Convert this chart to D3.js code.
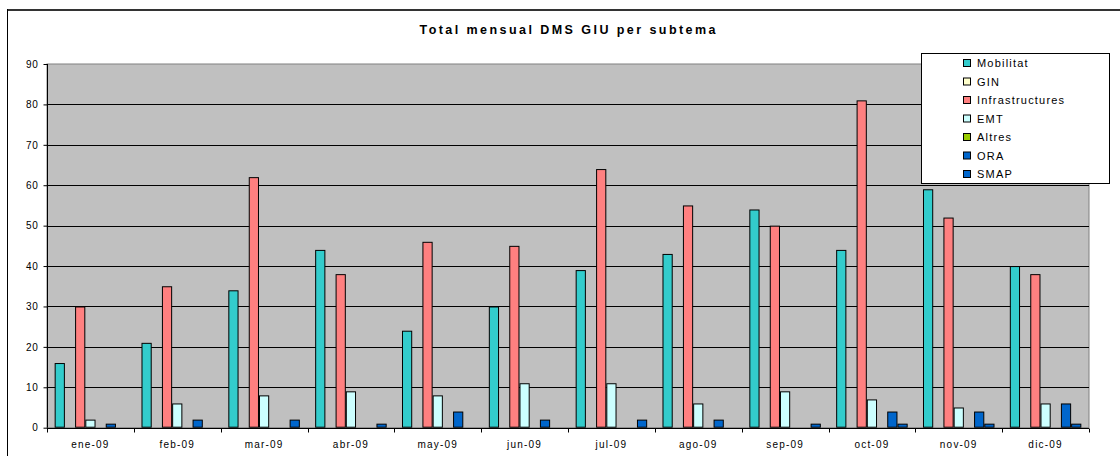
<!DOCTYPE html>
<html><head><meta charset="utf-8">
<script src="https://cdn.jsdelivr.net/npm/d3@7"></script>
<style>
html,body{margin:0;padding:0;background:#fff;}
svg{display:block;font-family:"Liberation Sans",Arial,sans-serif;}
</style></head>
<body>
<svg id="chart" width="1120" height="456"></svg>
<script>
const months = ["ene-09","feb-09","mar-09","abr-09","may-09","jun-09","jul-09","ago-09","sep-09","oct-09","nov-09","dic-09"];
const seriesNames = ["Mobilitat","GIN","Infrastructures","EMT","Altres","ORA","SMAP"];
const seriesColors = ["#33CCCC","#FFFFCC","#FF8080","#CCFFFF","#99CC00","#0066CC","#0066CC"];
const mobilitat = [16,21,34,44,24,30,39,43,54,44,59,40];
const gin = [0,0,0,0,0,0,0,0,0,0,0,0];
const infrastructures = [30,35,62,38,46,45,64,55,50,81,52,38];
const emt = [2,6,8,9,8,11,11,6,9,7,5,6];
const altres = [0,0,0,0,0,0,0,0,0,0,0,0];
const ora = [1,2,0,0,4,2,0,2,0,4,4,6];
const smap = [0,0,2,1,0,0,2,0,1,1,1,1];
const yTicks = [0,10,20,30,40,50,60,70,80,90];
const title = "Total mensual DMS GIU per subtema";

const seriesValues = [mobilitat, gin, infrastructures, emt, altres, ora, smap];

const svg = d3.select("#chart");
const plot = {left:47, right:1089, top:64, bottom:427.7};

// outer frame
svg.append("line").attr("x1",7).attr("x2",1120).attr("y1",10).attr("y2",10).attr("stroke","#333").attr("stroke-width",2);
svg.append("line").attr("x1",7.5).attr("x2",7.5).attr("y1",9).attr("y2",456).attr("stroke","#000").attr("stroke-width",1);

svg.append("text").attr("x",567.5).attr("y",33.5).attr("text-anchor","middle")
  .attr("font-size",12.5).attr("font-weight",700).attr("textLength",296).attr("lengthAdjust","spacing")
  .attr("fill","#000")
  .text(title);

const x = d3.scaleBand().domain(months).range([plot.left, plot.right]).padding(0);
const xs = d3.scaleBand().domain(seriesNames).range([0, x.bandwidth()]).paddingInner(0).paddingOuter(0.75);
const y = d3.scaleLinear().domain([0,90]).range([plot.bottom, plot.top]);

// plot background
svg.append("rect").attr("x",plot.left).attr("y",plot.top).attr("width",plot.right-plot.left).attr("height",plot.bottom-plot.top)
  .attr("fill","#C0C0C0").attr("stroke","#808080").attr("stroke-width",1);

// gridlines
svg.append("g").selectAll("line").data(yTicks.filter(t=>t>0&&t<90)).join("line")
  .attr("x1",plot.left).attr("x2",plot.right)
  .attr("y1",d=>Math.round(y(d))+0.5).attr("y2",d=>Math.round(y(d))+0.5)
  .attr("stroke","#000").attr("stroke-width",1);

// bars
const barData = [];
months.forEach((m,i)=>{
  seriesNames.forEach((s,j)=>{
    const v = seriesValues[j][i];
    if (v>0) barData.push({m, s, v, c: seriesColors[j]});
  });
});
svg.append("g").selectAll("rect").data(barData).join("rect")
  .attr("x",d=>x(d.m)+xs(d.s)+0.5)
  .attr("y",d=>y(d.v)+0.5)
  .attr("width",xs.bandwidth()-1)
  .attr("height",d=>y(0)-y(d.v)-1)
  .attr("fill",d=>d.c).attr("stroke","#000").attr("stroke-width",1);

// y axis
const yAxis = d3.axisLeft(y).tickValues(yTicks).tickSize(4).tickPadding(5).tickFormat(d3.format("d"));
const gy = svg.append("g").attr("transform",`translate(${plot.left+0.5},0)`).call(yAxis);
gy.select(".domain").attr("stroke","#000").attr("d",`M-0,${plot.top}V${plot.bottom}`);
gy.selectAll(".tick line").attr("stroke","#000");
gy.selectAll("text").attr("font-size",10).attr("letter-spacing","0.7px").attr("fill","#000")
  .attr("font-family","'Liberation Sans',Arial,sans-serif");

// x axis
const xAxis = d3.axisBottom(x).tickSize(0).tickPadding(12);
const gx = svg.append("g").attr("transform",`translate(0,${Math.round(plot.bottom)+0.5})`).call(xAxis);
gx.select(".domain").attr("stroke","#000").attr("d",`M${plot.left},0H${plot.right}`);
gx.selectAll("text").attr("font-size",10).attr("letter-spacing","1.2px").attr("fill","#000")
  .attr("font-family","'Liberation Sans',Arial,sans-serif");
// boundary ticks between categories
const bounds = months.map(m=>x(m)).concat([plot.right]);
gx.append("g").selectAll("line").data(bounds).join("line")
  .attr("x1",d=>Math.round(d)+0.5).attr("x2",d=>Math.round(d)+0.5).attr("y1",0).attr("y2",4)
  .attr("stroke","#000");

// legend
const lg = svg.append("g");
lg.append("rect").attr("x",921.5).attr("y",53.5).attr("width",188).attr("height",130)
  .attr("fill","#fff").attr("stroke","#000").attr("stroke-width",1);
const ly = d3.scalePoint().domain(seriesNames).range([63,174]);
const items = lg.selectAll("g.item").data(seriesNames.map((s,i)=>({s, c:seriesColors[i]}))).join("g").attr("class","item");
items.append("rect").attr("x",963.5).attr("y",d=>ly(d.s)-3.5).attr("width",7).attr("height",7)
  .attr("fill",d=>d.c).attr("stroke","#000").attr("stroke-width",1);
items.append("text").attr("x",977).attr("y",d=>ly(d.s)+4).attr("font-size",11).attr("letter-spacing","1.2px")
  .text(d=>d.s);
</script>
</body></html>
